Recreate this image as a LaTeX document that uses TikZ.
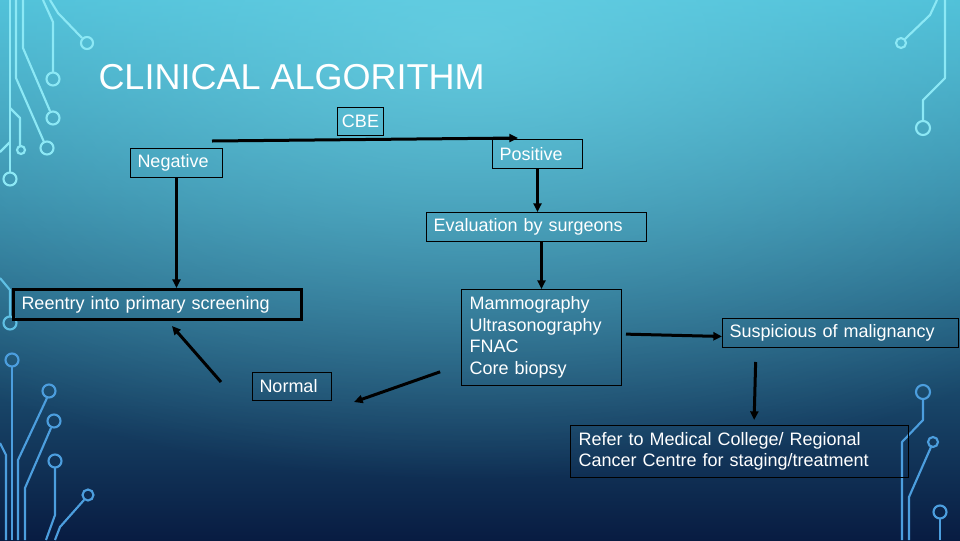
\documentclass[tikz,border=0pt]{standalone}
\usepackage{fontspec}
\setmainfont{Liberation Sans}
\usetikzlibrary{arrows.meta,fadings}

\definecolor{traceTop}{RGB}{140,232,245}
\definecolor{traceMid}{RGB}{95,192,228}
\definecolor{traceLow}{RGB}{76,158,222}
\definecolor{bgTop}{RGB}{70,186,212}
\definecolor{bgMid}{RGB}{44,146,186}
\definecolor{bgLow}{RGB}{8,28,66}
\definecolor{bgGlow}{RGB}{112,214,232}

\tikzfading[name=glowfade, inner color=transparent!0, outer color=transparent!100]

\tikzset{every picture/.style={line width=0.75pt}}
\tikzset{
  box/.style={draw=black, line width=0.75pt, text=white, font=\fontsize{13.5}{16.1}\selectfont,
    inner xsep=5.25pt, inner ysep=0pt, anchor=north west, align=left},
  flow/.style={draw=black, line width=2.25pt, -{Triangle[length=6.5pt,width=6pt]}},
  trace/.style={line width=1.6pt, line join=round},
  pad/.style={line width=1.6pt},
}

\begin{document}
\begin{tikzpicture}[x=0.75pt,y=0.75pt,yscale=-1,xscale=1]
    \useasboundingbox (0,0) rectangle (960,540);
    % background
    \shade[shading angle=30, top color=bgTop, middle color=bgMid, bottom color=bgLow] (0,0) rectangle (960,540);
    \fill[bgGlow, fill opacity=0.7, path fading=glowfade] (470,40) ellipse (820 and 440);

    % circuit traces, top left
    \draw[trace, traceTop] (43,0) -- (53,22) -- (53,72);
    \draw[pad, traceTop] (53,79) circle (6.5);
    \draw[trace, traceTop] (50,0) -- (58,13) -- (82,38);
    \draw[pad, traceTop] (87,43) circle (6);
    \draw[trace, traceTop] (23,0) -- (23,48) -- (50,111);
    \draw[pad, traceTop] (53,118) circle (6.5);
    \draw[trace, traceTop] (16,0) -- (16,78) -- (44,142);
    \draw[pad, traceTop] (47,148) circle (6.5);
    \draw[trace, traceTop] (10,0) -- (10,172);
    \draw[pad, traceTop] (10,179) circle (6.5);
    \draw[trace, traceTop] (10,108) -- (20,118) -- (20,146);
    \draw[pad, traceTop] (21,150) circle (4);
    \draw[trace, traceTop] (0,152) -- (10,142);
    % circuit traces, left
    \draw[trace, traceMid] (0,278) -- (10,290) -- (10,316);
    \draw[pad, traceMid] (10,323) circle (6.5);
    % circuit traces, bottom left
    \draw[pad, traceLow] (12,360) circle (6.5);
    \draw[trace, traceLow] (12,367) -- (12,540);
    \draw[pad, traceLow] (49,391) circle (6.5);
    \draw[trace, traceLow] (47,398) -- (18,460) -- (18,540);
    \draw[pad, traceLow] (54,421) circle (6.5);
    \draw[trace, traceLow] (51,428) -- (25,488) -- (25,540);
    \draw[pad, traceLow] (55,461) circle (6.5);
    \draw[trace, traceLow] (55,468) -- (55,515) -- (46,540);
    \draw[pad, traceLow] (88,495) circle (5.5);
    \draw[trace, traceLow] (84,500) -- (60,527) -- (55,540);
    \draw[trace, traceLow] (0,443) -- (6,455) -- (6,540);
    % circuit traces, top right
    \draw[trace, traceTop] (937,0) -- (930,15) -- (905,39);
    \draw[pad, traceTop] (901,43) circle (5);
    \draw[trace, traceTop] (945,0) -- (945,78) -- (923,100) -- (923,121);
    \draw[pad, traceTop] (923,128) circle (7);
    % circuit traces, bottom right
    \draw[pad, traceLow] (923,392) circle (7);
    \draw[trace, traceLow] (923,399) -- (923,420) -- (902,442) -- (902,540);
    \draw[pad, traceLow] (933,442) circle (5);
    \draw[trace, traceLow] (931,447) -- (909,497) -- (909,540);
    \draw[pad, traceLow] (940,512) circle (6.5);
    \draw[trace, traceLow] (940,519) -- (940,540);

    % Title
    \node[anchor=base west, inner sep=0pt, text=white, font=\fontsize{27}{32}\selectfont] (title) at (98,89) {CLINICAL ALGORITHM};

    % Boxes
    \node[box, minimum width=34.5pt, minimum height=21pt, inner xsep=0pt, align=center] (cbe) at (337,107) {CBE};
    \node[box, text width=58.5pt, minimum height=21.75pt] (negative) at (130,148) {Negative};
    \node[box, text width=57pt, minimum height=21.75pt] (positive) at (492,139) {Positive};
    \node[box, text width=154.5pt, minimum height=21.75pt] (evaluation) at (426,212) {Evaluation by surgeons};
    \node[box, line width=2.25pt, inner xsep=6pt, text width=204pt, minimum height=22.5pt] (reentry) at (12,288) {Reentry into primary screening};
    \node[box, text width=48.75pt, minimum height=21pt] (normal) at (252,372) {Normal};
    \node[box, inner xsep=6pt, text width=108pt, minimum height=72pt] (mammo) at (461,289) {Mammography\\Ultrasonography\\FNAC\\Core biopsy};
    \node[box, text width=166.5pt, minimum height=21.75pt] (suspicious) at (722,318) {Suspicious of malignancy};
    \node[box, inner xsep=6pt, text width=241.5pt, minimum height=39pt] (refer) at (570,425) {Refer to Medical College/ Regional\\Cancer Centre for staging/treatment};

    % Arrows (yshift runs downwards here, as yscale=-1)
    \coordinate (cbetail) at (212,141);
    \draw[flow] (cbetail) -- ([xshift=19.5pt,yshift=-0.75pt]positive.north west);
    \draw[flow] (negative.south) -- (negative.south |- reentry.north);
    \draw[flow] (positive.south) -- (positive.south |- evaluation.north);
    \draw[flow] (evaluation.south -| mammo.north) -- (mammo.north);
    \draw[flow, shorten <=3pt] ([yshift=-2.6pt]mammo.east) -- ([yshift=2.6pt]suspicious.west);
    \draw[flow, shorten <=10.5pt, shorten >=3.75pt] ([xshift=25.5pt]suspicious.south west) -- ([xshift=138pt]refer.north west);
    \draw[flow, shorten <=16.6pt] ([yshift=20.25pt]mammo.west) -- ([xshift=16.5pt,yshift=0.75pt]normal.south east);
    \draw[flow] ([xshift=-23.25pt,yshift=7.5pt]normal.north west) -- ([xshift=120pt,yshift=3.75pt]reentry.south west);
\end{tikzpicture}
\end{document}
